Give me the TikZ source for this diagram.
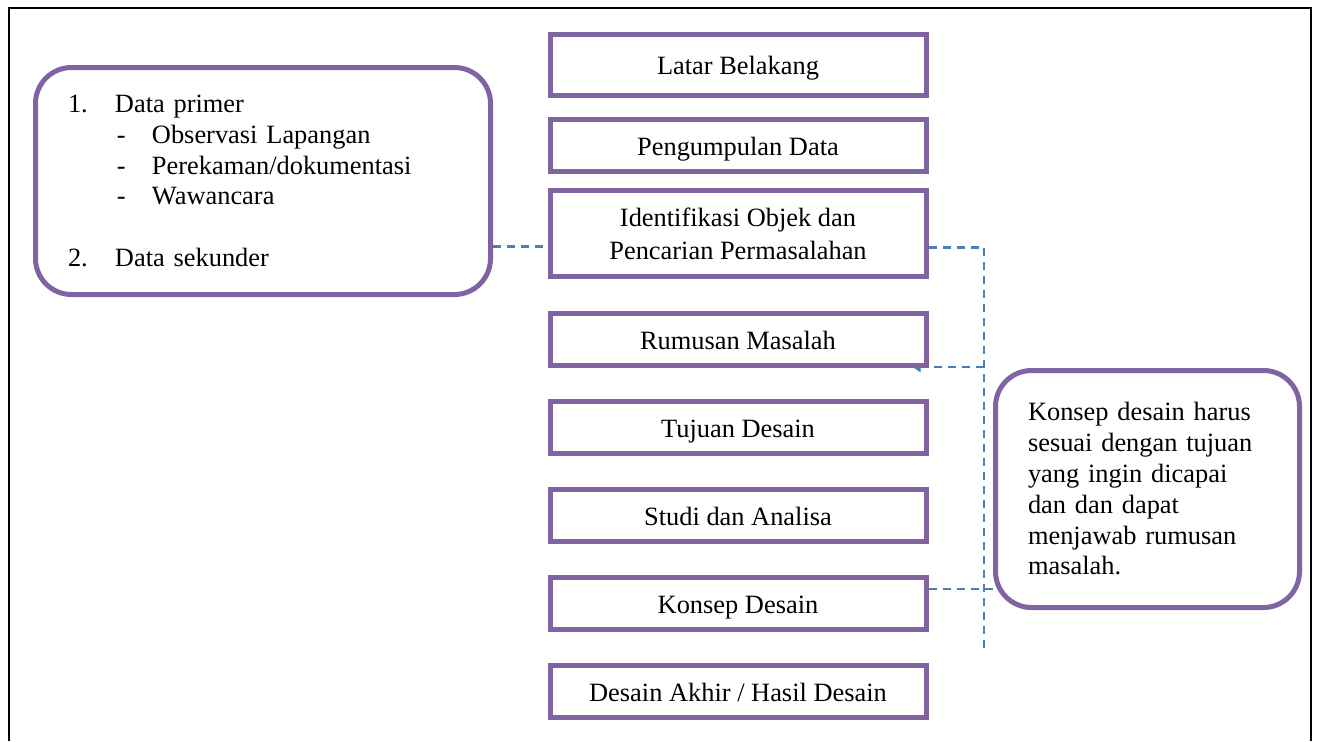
\documentclass[tikz,border=0pt]{standalone}
\usepackage{fontspec}
\setmainfont{Liberation Serif}
\usetikzlibrary{positioning,arrows.meta,backgrounds}
\definecolor{boxpurple}{HTML}{8064A2}
\definecolor{linkblue}{HTML}{4A7EBB}

\begin{document}
\begin{tikzpicture}[
	font=\fontsize{13.2}{15.4}\selectfont,
	box/.style={draw=boxpurple, line width=2.5pt, fill=white, minimum width=188pt, minimum height=26pt, inner sep=0pt, align=center, text height=9.5pt, text depth=0pt},
	roundbox/.style={draw=boxpurple, line width=2.5pt, fill=white, rounded corners=18pt, inner xsep=16.25pt, inner ysep=0pt, align=left},
	link/.style={draw=linkblue, line width=1.2pt, dash pattern=on 4pt off 3pt},
	node distance=15.5pt
	]
	\useasboundingbox (0,0) rectangle (658.5pt,-370.5pt);
	\draw [line width=1pt] (4.5pt,-370.5pt) -- (4.5pt,-4pt) -- (655.5pt,-4pt) -- (655.5pt,-370.5pt);

	\node [box, minimum height=30.5pt] (latar) at (369pt,-32.5pt) {Latar Belakang};
	\node [box, below=9.5pt of latar] (kumpul) {Pengumpulan Data};
	\node [box, minimum height=43pt, text height={}, text depth={}, below=7pt of kumpul] (identifikasi) {Identifikasi Objek dan\\[1.1pt]Pencarian Permasalahan};
	\node [box, below=16pt of identifikasi] (rumusan) {Rumusan Masalah};
	\node [box, below=of rumusan] (tujuan) {Tujuan Desain};
	\node [box, below=of tujuan] (studi) {Studi dan Analisa};
	\node [box, below=of studi] (konsep) {Konsep Desain};
	\node [box, below=of konsep] (akhir) {Desain Akhir / Hasil Desain};

	\node [roundbox, text width=195pt, minimum height=113.5pt] (sumber) at (131.5pt,-90.5pt) {%
		\makebox[23.5pt][l]{1.}Data primer\\
		\hspace*{24.5pt}\makebox[17.5pt][l]{-}Observasi Lapangan\\
		\hspace*{24.5pt}\makebox[17.5pt][l]{-}Perekaman/dokumentasi\\
		\hspace*{24.5pt}\makebox[17.5pt][l]{-}Wawancara\\[15.5pt]
		\makebox[23.5pt][l]{2.}Data sekunder};
	\node [roundbox, text width=119.5pt, minimum height=118.5pt] (catatan) at (573.75pt,-244.5pt) {Konsep desain harus\\sesuai dengan tujuan\\yang ingin dicapai\\dan dan dapat\\menjawab rumusan\\masalah.};

	\begin{pgfonlayer}{background}
		\coordinate (kiri) at ([yshift=-6.5pt]identifikasi.west);
		\coordinate (kanan) at ([yshift=-7pt]identifikasi.east);
		\coordinate (busbawah) at (492pt,-324pt);
		\coordinate (rumusujung) at ([xshift=-8pt,yshift=0.5pt]rumusan.south east);
		\coordinate (konsepkanan) at ([yshift=7.25pt]konsep.east);

		\draw [link] (sumber.east |- kiri) -- (kiri);
		\draw [link] (kanan) -| (busbawah);
		\draw [link, -{Triangle[length=4pt, width=5pt]}] (rumusujung -| busbawah) -- (rumusujung);
		\draw [link] (konsepkanan) -- (konsepkanan -| catatan.west);
	\end{pgfonlayer}
\end{tikzpicture}
\end{document}
